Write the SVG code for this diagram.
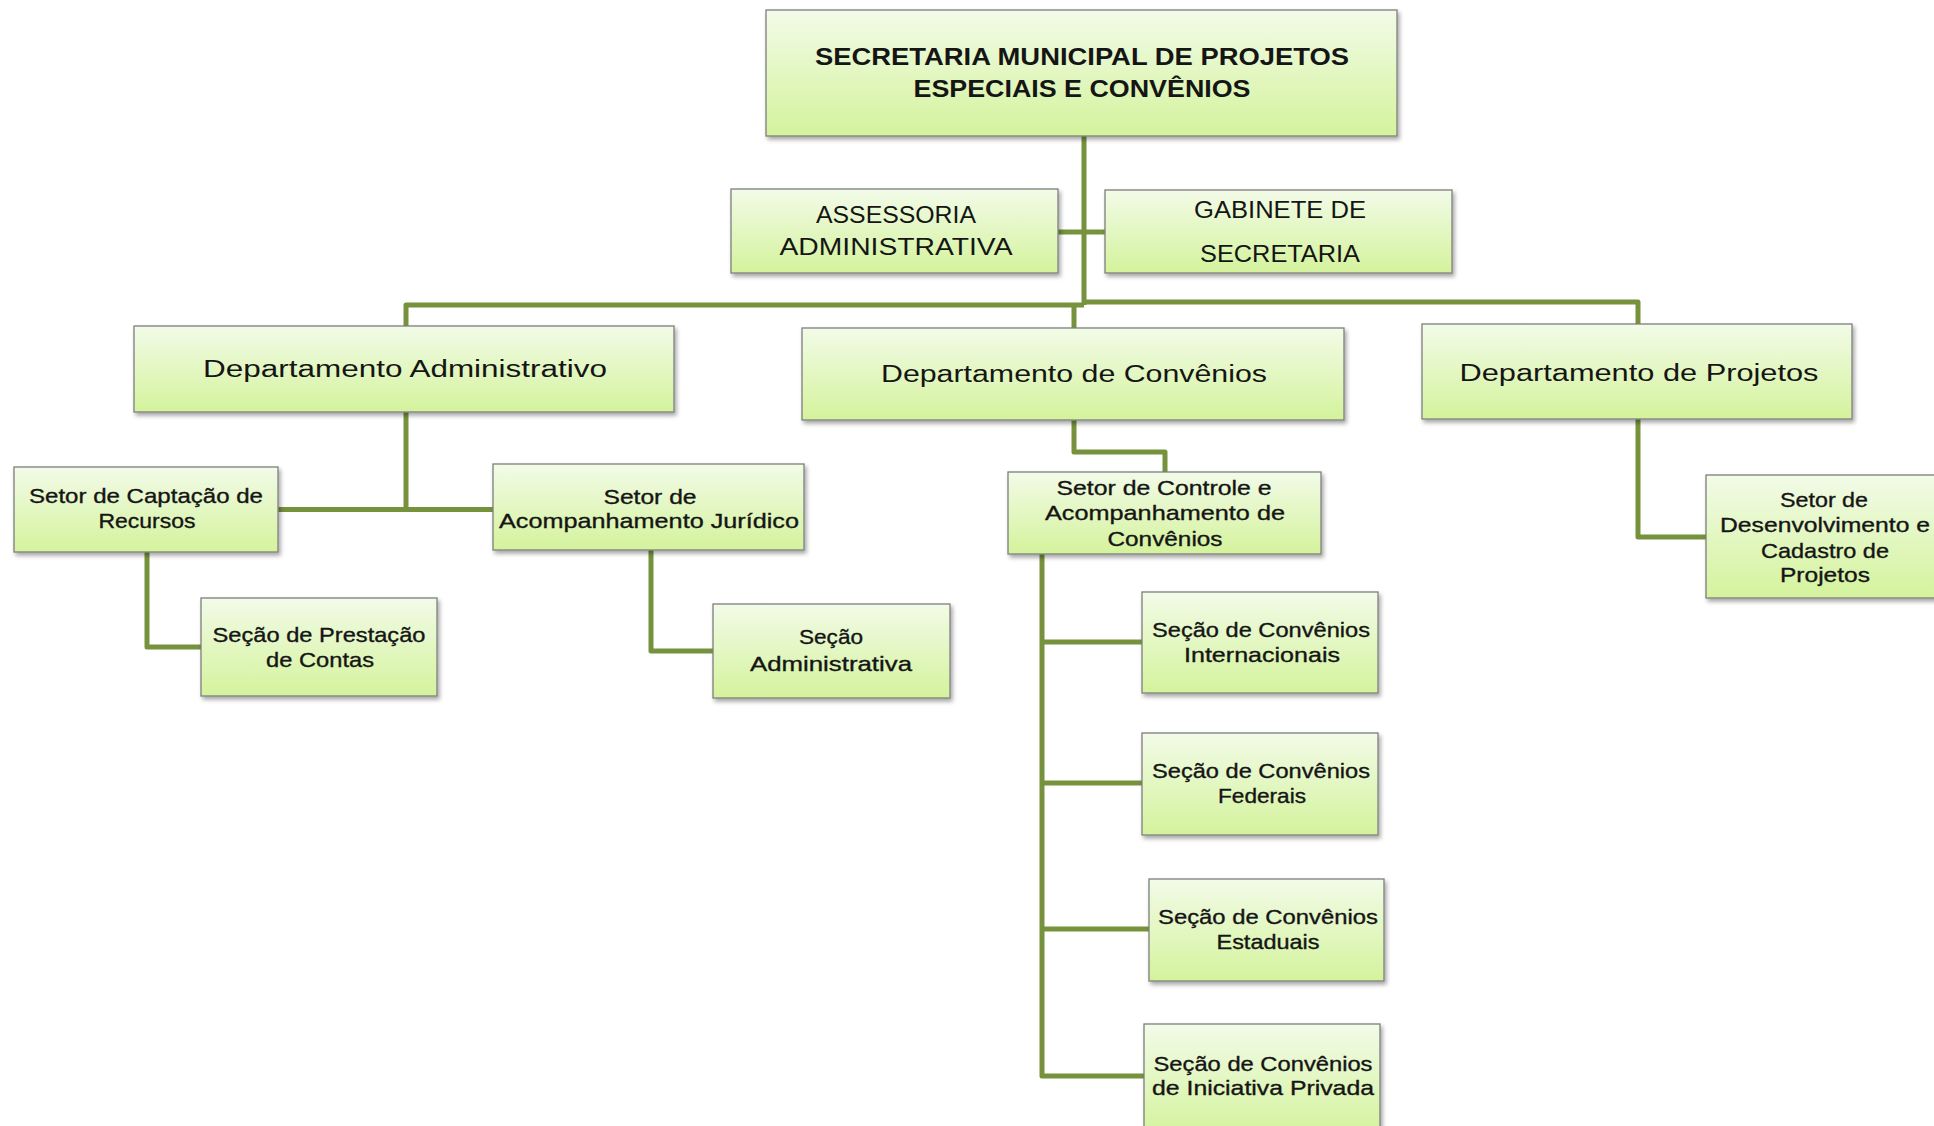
<svg xmlns="http://www.w3.org/2000/svg" width="1934" height="1126" viewBox="0 0 1934 1126">
<defs>
<linearGradient id="g" x1="0" y1="0" x2="0" y2="1">
<stop offset="0" stop-color="#f2fbe8"/>
<stop offset="1" stop-color="#d4f39c"/>
</linearGradient>
<filter id="sh" x="-10%" y="-10%" width="120%" height="130%">
<feDropShadow dx="2" dy="3" stdDeviation="2" flood-color="#000" flood-opacity="0.35"/>
</filter>
</defs>
<style>
.box{fill:url(#g);stroke:#7f7f7f;stroke-width:1.3;filter:url(#sh)}
.c{fill:none;stroke:#76923c;stroke-width:5;stroke-linejoin:round}
text{font-family:"Liberation Sans",Arial,sans-serif;fill:#151515;text-anchor:middle}
.t{font-size:24px;font-weight:bold}
.d{font-size:23px}
.s{font-size:21px;stroke:#151515;stroke-width:0.35}
</style>
<rect width="1934" height="1126" fill="#ffffff"/>
<g id="connectors">
<path class="c" d="M1084 136 V305"/>
<path class="c" d="M1058 232 H1105"/>
<path class="c" d="M1084 305 H406 V326"/>
<path class="c" d="M1084 302 H1638 V324"/>
<path class="c" d="M1074 305 V328"/>
<path class="c" d="M406 412 V509"/>
<path class="c" d="M278 509.5 H493"/>
<path class="c" d="M147 552 V647 H201"/>
<path class="c" d="M651 550 V651 H713"/>
<path class="c" d="M1074 420 V452 H1165 V472"/>
<path class="c" d="M1042 554 V1076 H1144"/>
<path class="c" d="M1042 642 H1142"/>
<path class="c" d="M1042 783 H1142"/>
<path class="c" d="M1042 929 H1149"/>
<path class="c" d="M1638 419 V537 H1706"/>
</g>
<g id="secretaria">
<rect class="box" x="766" y="10" width="631" height="126"/>
<text class="t" x="1082" y="65" textLength="534" lengthAdjust="spacingAndGlyphs">SECRETARIA MUNICIPAL DE PROJETOS</text>
<text class="t" x="1082" y="97" textLength="337" lengthAdjust="spacingAndGlyphs">ESPECIAIS E CONVÊNIOS</text>
</g>
<g id="assessoria">
<rect class="box" x="731" y="189" width="327" height="84"/>
<text class="d" x="896" y="223" textLength="160" lengthAdjust="spacingAndGlyphs">ASSESSORIA</text>
<text class="d" x="896" y="255" textLength="233" lengthAdjust="spacingAndGlyphs">ADMINISTRATIVA</text>
</g>
<g id="gabinete">
<rect class="box" x="1105" y="190" width="347" height="83"/>
<text class="d" x="1280" y="218" textLength="172" lengthAdjust="spacingAndGlyphs">GABINETE DE</text>
<text class="d" x="1280" y="262" textLength="160" lengthAdjust="spacingAndGlyphs">SECRETARIA</text>
</g>
<g id="dept-administrativo">
<rect class="box" x="134" y="326" width="540" height="86"/>
<text class="d" x="405" y="377" textLength="404" lengthAdjust="spacingAndGlyphs">Departamento Administrativo</text>
</g>
<g id="dept-convenios">
<rect class="box" x="802" y="328" width="542" height="92"/>
<text class="d" x="1074" y="382" textLength="386" lengthAdjust="spacingAndGlyphs">Departamento de Convênios</text>
</g>
<g id="dept-projetos">
<rect class="box" x="1422" y="324" width="430" height="95"/>
<text class="d" x="1639" y="381" textLength="359" lengthAdjust="spacingAndGlyphs">Departamento de Projetos</text>
</g>
<g id="setor-captacao">
<rect class="box" x="14" y="467" width="264" height="85"/>
<text class="s" x="146" y="503" textLength="234" lengthAdjust="spacingAndGlyphs">Setor de Captação de</text>
<text class="s" x="147" y="528" textLength="97" lengthAdjust="spacingAndGlyphs">Recursos</text>
</g>
<g id="secao-prestacao">
<rect class="box" x="201" y="598" width="236" height="98"/>
<text class="s" x="319" y="642" textLength="213" lengthAdjust="spacingAndGlyphs">Seção de Prestação</text>
<text class="s" x="320" y="667" textLength="108" lengthAdjust="spacingAndGlyphs">de Contas</text>
</g>
<g id="setor-juridico">
<rect class="box" x="493" y="464" width="311" height="86"/>
<text class="s" x="650" y="504" textLength="93" lengthAdjust="spacingAndGlyphs">Setor de</text>
<text class="s" x="649" y="528" textLength="300" lengthAdjust="spacingAndGlyphs">Acompanhamento Jurídico</text>
</g>
<g id="secao-administrativa">
<rect class="box" x="713" y="604" width="237" height="94"/>
<text class="s" x="831" y="644" textLength="64" lengthAdjust="spacingAndGlyphs">Seção</text>
<text class="s" x="831" y="671" textLength="162" lengthAdjust="spacingAndGlyphs">Administrativa</text>
</g>
<g id="setor-controle">
<rect class="box" x="1008" y="472" width="313" height="82"/>
<text class="s" x="1164" y="495" textLength="215" lengthAdjust="spacingAndGlyphs">Setor de Controle e</text>
<text class="s" x="1165" y="520" textLength="240" lengthAdjust="spacingAndGlyphs">Acompanhamento de</text>
<text class="s" x="1165" y="546" textLength="115" lengthAdjust="spacingAndGlyphs">Convênios</text>
</g>
<g id="secao-internacionais">
<rect class="box" x="1142" y="592" width="236" height="101"/>
<text class="s" x="1261" y="637" textLength="218" lengthAdjust="spacingAndGlyphs">Seção de Convênios</text>
<text class="s" x="1262" y="662" textLength="156" lengthAdjust="spacingAndGlyphs">Internacionais</text>
</g>
<g id="secao-federais">
<rect class="box" x="1142" y="733" width="236" height="102"/>
<text class="s" x="1261" y="778" textLength="218" lengthAdjust="spacingAndGlyphs">Seção de Convênios</text>
<text class="s" x="1262" y="803" textLength="88" lengthAdjust="spacingAndGlyphs">Federais</text>
</g>
<g id="secao-estaduais">
<rect class="box" x="1149" y="879" width="235" height="102"/>
<text class="s" x="1268" y="924" textLength="220" lengthAdjust="spacingAndGlyphs">Seção de Convênios</text>
<text class="s" x="1268" y="949" textLength="103" lengthAdjust="spacingAndGlyphs">Estaduais</text>
</g>
<g id="secao-privada">
<rect class="box" x="1144" y="1024" width="236" height="112"/>
<text class="s" x="1263" y="1071" textLength="219" lengthAdjust="spacingAndGlyphs">Seção de Convênios</text>
<text class="s" x="1263" y="1095" textLength="222" lengthAdjust="spacingAndGlyphs">de Iniciativa Privada</text>
</g>
<g id="setor-desenvolvimento">
<rect class="box" x="1706" y="475" width="240" height="123"/>
<text class="s" x="1824" y="507" textLength="88" lengthAdjust="spacingAndGlyphs">Setor de</text>
<text class="s" x="1825" y="532" textLength="210" lengthAdjust="spacingAndGlyphs">Desenvolvimento e</text>
<text class="s" x="1825" y="558" textLength="128" lengthAdjust="spacingAndGlyphs">Cadastro de</text>
<text class="s" x="1825" y="582" textLength="90" lengthAdjust="spacingAndGlyphs">Projetos</text>
</g>
</svg>
